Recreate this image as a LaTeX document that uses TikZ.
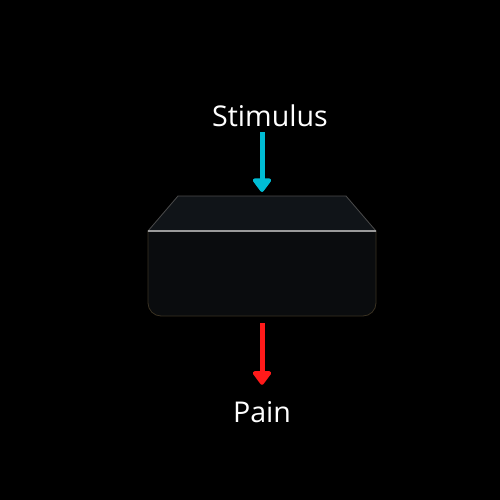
\documentclass[tikz,border=0pt]{standalone}
\usepackage{fontspec}
\setmainfont{Open Sans}
\usetikzlibrary{arrows.meta, positioning, calc}
\definecolor{stimcyan}{HTML}{00BCD4}
\definecolor{painred}{HTML}{FF1A1A}
\definecolor{facetop}{HTML}{101418}
\definecolor{facefront}{HTML}{0A0C0E}
\definecolor{edgegray}{HTML}{9A9A9A}
\definecolor{rimbrown}{HTML}{3A3222}
\tikzset{
  lbl/.style = {text=white, inner sep=0pt, font=\fontsize{28.6}{32}\selectfont},
  flow/.style = {line width=5pt, -{Triangle[width=21pt,length=15pt,round]}},
  flow_in/.style = {flow, stimcyan},
  flow_out/.style = {flow, painred}
}

\begin{document}
\begin{tikzpicture}[x=1pt,y=-1pt]
  \fill[black] (0,0) rectangle (500,500);
  \useasboundingbox (0,0) rectangle (500,500);
  % box: front face, then top face
  \fill[facefront, draw=rimbrown, line width=0.8pt]
    (148,231) -- (376,231) -- (376,303) arc[start angle=0,end angle=90,radius=13]
    -- (161,316) arc[start angle=90,end angle=180,radius=13] -- cycle;
  \fill[facetop, draw=gray!60!black, line width=0.8pt]
    (178,196) -- (346,196) -- (376,231) -- (148,231) -- cycle;
  \draw[edgegray, line width=1.3pt] (148,231) -- (376,231);
  \coordinate (boxtop) at (262,196);
  \coordinate (boxbot) at (262,316);
  % labels
  \node[lbl, anchor=base] (stimulus) at (270,126) {Stimulus};
  \node[lbl, anchor=base] (pain) at (262,422) {Pain};
  % arrows
  \draw[flow_in, shorten <=6pt, shorten >=4pt] (stimulus.south -| boxtop) -- (boxtop);
  \draw[flow_out, shorten <=7pt, shorten >=16pt] (boxbot) -- (boxbot |- pain.north);
\end{tikzpicture}
\end{document}
